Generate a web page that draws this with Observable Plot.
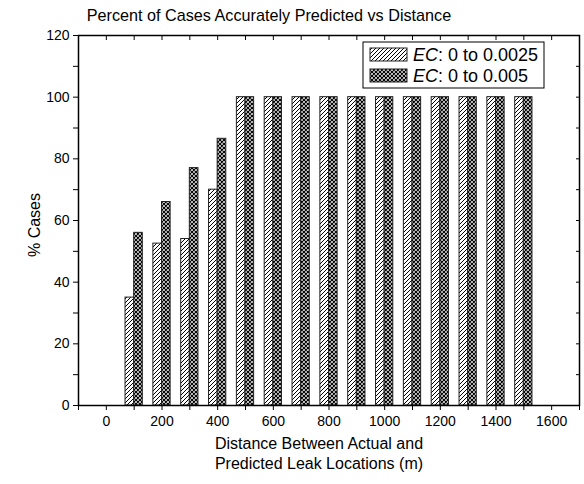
<!DOCTYPE html>
<html>
<head>
<meta charset="utf-8">
<script src="https://cdn.jsdelivr.net/npm/d3@7"></script>
<script src="https://cdn.jsdelivr.net/npm/@observablehq/plot@0.6"></script>
<style>
  body { margin: 0; background: #fff; }
  #chart { width: 584px; height: 484px; }
  svg { font-family: "Liberation Sans", Arial, sans-serif; }
</style>
</head>
<body>
<div id="chart"></div>
<script>
const distances = [100, 200, 300, 400, 500, 600, 700, 800, 900, 1000, 1100, 1200, 1300, 1400, 1500];
const ec0025 = [35, 52.5, 54, 70, 100, 100, 100, 100, 100, 100, 100, 100, 100, 100, 100];
const ec005 = [56, 66, 77, 86.5, 100, 100, 100, 100, 100, 100, 100, 100, 100, 100, 100];
const seriesNames = ["EC: 0 to 0.0025", "EC: 0 to 0.005"];
const yTicks = [0, 20, 40, 60, 80, 100, 120];
const xTicks = [0, 200, 400, 600, 800, 1000, 1200, 1400, 1600];

const barHalf = 31;
const rows = [];
distances.forEach((d, i) => {
  rows.push({x1: d - barHalf, x2: d, y: ec0025[i], s: 0});
  rows.push({x1: d, x2: d + barHalf, y: ec005[i], s: 1});
});

const xMinor = d3.range(-100, 1701, 100);
const yMinor = d3.range(0, 121, 10);

const plot = Plot.plot({
  width: 584,
  height: 484,
  marginLeft: 78,
  marginRight: 5,
  marginTop: 35,
  marginBottom: 79,
  style: {fontFamily: "Liberation Sans, Arial, sans-serif", fontSize: "14px", color: "#000", background: "#fff"},
  x: {domain: [-100, 1700]},
  y: {domain: [0, 120]},
  marks: [
    Plot.rectY(rows.filter(r => r.s === 0), {x1: "x1", x2: "x2", y: "y", fill: "url(#hatchA)", stroke: "#222", strokeWidth: 1}),
    Plot.rectY(rows.filter(r => r.s === 1), {x1: "x1", x2: "x2", y: "y", fill: "url(#hatchB)", stroke: "#222", strokeWidth: 1}),
    Plot.axisY(yMinor, {anchor: "left", tickSize: 5, tickFormat: d => yTicks.includes(d) ? String(d) : "", fontSize: 14, label: null, tickPadding: 4, stroke: "#000"}),
    Plot.axisY(yMinor, {anchor: "right", tickSize: -4, tickFormat: () => "", label: null, stroke: "#000"}),
    Plot.axisX(xMinor, {anchor: "bottom", tickSize: 5, tickFormat: d => xTicks.includes(d) ? String(d) : "", fontSize: 14, label: null, tickPadding: 6, stroke: "#000"}),
    Plot.axisX(xMinor, {anchor: "top", tickSize: -4, tickFormat: () => "", label: null, stroke: "#000"}),
    Plot.frame({stroke: "#000", strokeWidth: 1.5})
  ]
});

const svg = d3.select(plot);
const defs = svg.insert("defs", ":first-child");
const pA = defs.append("pattern").attr("id", "hatchA").attr("patternUnits", "userSpaceOnUse")
  .attr("width", 4).attr("height", 4);
pA.append("rect").attr("width", 4).attr("height", 4).attr("fill", "#fff");
pA.append("path").attr("d", "M-1,1 l2,-2 M0,4 l4,-4 M3,5 l2,-2").attr("stroke", "#000").attr("stroke-width", 1);

const pB = defs.append("pattern").attr("id", "hatchB").attr("patternUnits", "userSpaceOnUse")
  .attr("width", 4).attr("height", 4);
pB.append("rect").attr("width", 4).attr("height", 4).attr("fill", "#fff");
pB.append("path").attr("d", "M-1,1 l2,-2 M0,4 l4,-4 M3,5 l2,-2 M-1,3 l2,2 M0,0 l4,4 M3,-1 l2,2").attr("stroke", "#000").attr("stroke-width", 1.2);

// Title
svg.append("text").attr("x", 269).attr("y", 21).attr("text-anchor", "middle")
  .attr("font-size", 16.2).attr("fill", "#000").text("Percent of Cases Accurately Predicted vs Distance");

// Axis labels
svg.append("text").attr("transform", "translate(40,225) rotate(-90)").attr("text-anchor", "middle")
  .attr("font-size", 16).attr("fill", "#000").text("% Cases");
svg.append("text").attr("x", 319).attr("y", 449).attr("text-anchor", "middle")
  .attr("font-size", 16).attr("fill", "#000").text("Distance Between Actual and");
svg.append("text").attr("x", 319).attr("y", 469).attr("text-anchor", "middle")
  .attr("font-size", 16).attr("fill", "#000").text("Predicted Leak Locations (m)");

// Legend
const lg = svg.append("g");
lg.append("rect").attr("x", 363).attr("y", 42).attr("width", 181).attr("height", 46)
  .attr("fill", "#fff").attr("stroke", "#000").attr("stroke-width", 1);
[0, 1].forEach(i => {
  const y0 = 48 + i * 21;
  lg.append("rect").attr("x", 370).attr("y", y0).attr("width", 37).attr("height", 13)
    .attr("fill", i === 0 ? "url(#hatchA)" : "url(#hatchB)").attr("stroke", "#222");
  const t = lg.append("text").attr("x", 413).attr("y", y0 + 13).attr("text-anchor", "start")
    .attr("font-size", 18).attr("fill", "#000");
  const parts = seriesNames[i].split(":");
  t.append("tspan").attr("font-style", "italic").text(parts[0]);
  t.append("tspan").text(":" + parts[1]);
});

document.getElementById("chart").appendChild(plot);
</script>
</body>
</html>
